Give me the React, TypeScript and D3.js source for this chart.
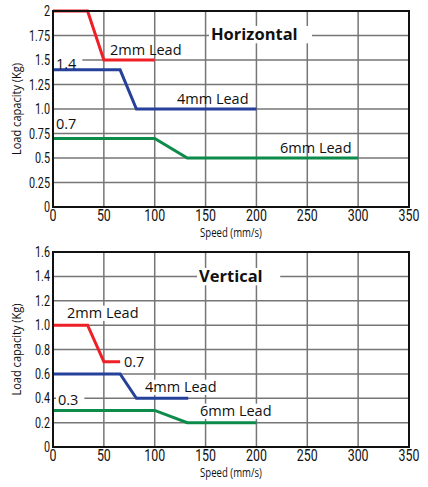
import React from "react";
import * as d3 from "d3";

const xTicks = [0, 50, 100, 150, 200, 250, 300, 350];
const hYTicks = [0, 0.25, 0.5, 0.75, 1.0, 1.25, 1.5, 1.75, 2];
const hYTickLabels = ["0", "0.25", "0.5", "0.75", "1.0", "1.25", "1.5", "1.75", "2"];
const vYTicks = [0, 0.2, 0.4, 0.6, 0.8, 1.0, 1.2, 1.4, 1.6];
const vYTickLabels = ["0", "0.2", "0.4", "0.6", "0.8", "1.0", "1.2", "1.4", "1.6"];

const h2Speed = [0, 34, 50, 100];
const h2Load = [2, 2, 1.5, 1.5];
const h4Speed = [0, 66, 82, 200];
const h4Load = [1.4, 1.4, 1.0, 1.0];
const h6Speed = [0, 100, 132, 300];
const h6Load = [0.7, 0.7, 0.5, 0.5];

const v2Speed = [0, 34, 50, 66];
const v2Load = [1.0, 1.0, 0.7, 0.7];
const v4Speed = [0, 66, 82, 133];
const v4Load = [0.6, 0.6, 0.4, 0.4];
const v6Speed = [0, 100, 132, 200];
const v6Load = [0.3, 0.3, 0.2, 0.2];

const RED = "#ee1f26";
const BLUE = "#26419a";
const GREEN = "#0d8b4b";
const LABEL_FONT = "'Open Sans', sans-serif";

type Series = { speed: number[]; load: number[]; color: string };
type Label = { text: string; x: number; y: number; bold?: boolean; size?: number; bg?: boolean };

function Panel(props: {
  top: number;
  bottom: number;
  yMax: number;
  yTicks: number[];
  yLabels: string[];
  series: Series[];
  labels: Label[];
}) {
  const { top, bottom, yMax, yTicks, yLabels, series, labels } = props;
  const left = 53;
  const right = 409;
  const x = d3.scaleLinear().domain([0, 350]).range([left, right]);
  const y = d3.scaleLinear().domain([0, yMax]).range([bottom, top]);
  const line = d3
    .line<[number, number]>()
    .x((d) => x(d[0]))
    .y((d) => y(d[1]));
  return (
    <g>
      <rect x={left} y={top} width={right - left} height={bottom - top} fill="#fff" />
      {xTicks.slice(1, -1).map((t) => (
        <line key={"gx" + t} x1={x(t)} x2={x(t)} y1={top} y2={bottom} stroke="#767676" strokeWidth={1.5} />
      ))}
      {yTicks.slice(1, -1).map((t) => (
        <line key={"gy" + t} x1={left} x2={right} y1={y(t)} y2={y(t)} stroke="#767676" strokeWidth={1.5} />
      ))}
      {labels
        .filter((l) => l.bg)
        .map((l, i) => {
          const size = l.size ?? 14.5;
          const w = l.text.length * size * (l.bold ? 0.6 : 0.56) + 4;
          return <rect key={"bg" + i} x={l.x - 2} y={l.y - size * 0.85} width={w} height={size * 1.05} fill="#fff" />;
        })}
      {series.map((s, i) => (
        <path
          key={"s" + i}
          d={line(s.speed.map((v, j) => [v, s.load[j]] as [number, number])) || ""}
          fill="none"
          stroke={s.color}
          strokeWidth={3}
        />
      ))}
      <rect x={left} y={top} width={right - left} height={bottom - top} fill="none" stroke="#111" strokeWidth={2} />
      {yTicks.map((t, i) => (
        <g key={"yt" + t} transform={`translate(${left - 3},${y(t) + 5}) scale(0.72,1)`}>
          <text textAnchor="end" fontSize={15} fontFamily="Roboto, sans-serif" fill="#111">
            {yLabels[i]}
          </text>
        </g>
      ))}
      {xTicks.map((t) => (
        <g key={"xt" + t} transform={`translate(${x(t)},${bottom + 14}) scale(0.75,1)`}>
          <text textAnchor="middle" fontSize={16.5} fontFamily="Roboto, sans-serif" fill="#111">
            {t}
          </text>
        </g>
      ))}
      <g transform={`translate(231,${bottom + 30}) scale(0.8,1)`}>
        <text textAnchor="middle" fontSize={12} fontFamily={LABEL_FONT} fill="#111">
          Speed (mm/s)
        </text>
      </g>
      <g transform={`translate(21,${(top + bottom) / 2}) rotate(-90) scale(0.85,1)`}>
        <text textAnchor="middle" fontSize={13} fontFamily={LABEL_FONT} fill="#111">
          Load capacity (Kg)
        </text>
      </g>
      {labels.map((l, i) => (
        <text
          key={"l" + i}
          x={l.x}
          y={l.y}
          fontSize={l.size ?? 14.5}
          fontWeight={l.bold ? 700 : 400}
          fontFamily={LABEL_FONT}
          fill="#111"
        >
          {l.text}
        </text>
      ))}
    </g>
  );
}

export default function App() {
  return (
    <svg width={428} height={487} style={{ display: "block", position: "absolute", left: 0, top: 0 }}>
      <rect width={428} height={487} fill="#fff" />
      <Panel
        top={11}
        bottom={207}
        yMax={2}
        yTicks={hYTicks}
        yLabels={hYTickLabels}
        series={[
          { speed: h2Speed, load: h2Load, color: RED },
          { speed: h4Speed, load: h4Load, color: BLUE },
          { speed: h6Speed, load: h6Load, color: GREEN },
        ]}
        labels={[
          { text: "Horizontal", x: 211, y: 40, bold: true, size: 16.5, bg: true },
          { text: "2mm Lead", x: 110, y: 55 },
          { text: "4mm Lead", x: 177, y: 104 },
          { text: "6mm Lead", x: 280, y: 153 },
          { text: "1.4", x: 56, y: 69, bg: true },
          { text: "0.7", x: 56, y: 129, bg: true },
        ]}
      />
      <Panel
        top={252}
        bottom={447}
        yMax={1.6}
        yTicks={vYTicks}
        yLabels={vYTickLabels}
        series={[
          { speed: v2Speed, load: v2Load, color: RED },
          { speed: v4Speed, load: v4Load, color: BLUE },
          { speed: v6Speed, load: v6Load, color: GREEN },
        ]}
        labels={[
          { text: "Vertical", x: 199, y: 282, bold: true, size: 16.5, bg: true },
          { text: "2mm Lead", x: 67, y: 318, bg: true },
          { text: "0.7", x: 124, y: 367, bg: true },
          { text: "4mm Lead", x: 145, y: 392, bg: true },
          { text: "0.3", x: 58, y: 405, bg: true },
          { text: "6mm Lead", x: 200, y: 416, bg: true },
        ]}
      />
    </svg>
  );
}
